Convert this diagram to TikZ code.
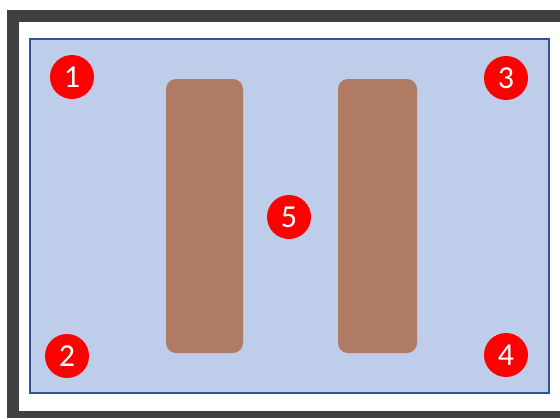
\documentclass[tikz,border=0pt]{standalone}
\usepackage{fontspec}
\setmainfont{Carlito}
\definecolor{frame}{HTML}{404040}
\definecolor{bluefill}{HTML}{BDCDEA}
\definecolor{blueline}{HTML}{2F5597}
\definecolor{brown}{HTML}{B07B65}
\definecolor{redc}{HTML}{FF0000}
\tikzset{
  marker/.style={circle, fill=redc, minimum size=44pt, inner sep=0pt, text=white, font=\fontsize{32}{32}\selectfont},
  bar/.style={fill=brown, rounded corners=10pt}
}
\begin{document}
\begin{tikzpicture}[x=1pt,y=-1pt]
\useasboundingbox (0,0) rectangle (560,418);
\fill[white] (0,0) rectangle (560,418);
\fill[frame] (7,10) rectangle (560,418);
\fill[white] (19,22) rectangle (560,411);
\draw[blueline, fill=bluefill, line width=1.3pt] (30,39) rectangle (549,393);
\fill[bar] (166,79) rectangle (243,353);
\fill[bar] (338,79) rectangle (417,353);
\node[marker] (n1) at (72,77) {1};
\node[marker] (n2) at (67,356) {2};
\node[marker] (n3) at (506,78) {3};
\node[marker] (n4) at (506,355) {4};
\node[marker] (n5) at (289,217) {5};
\end{tikzpicture}
\end{document}
